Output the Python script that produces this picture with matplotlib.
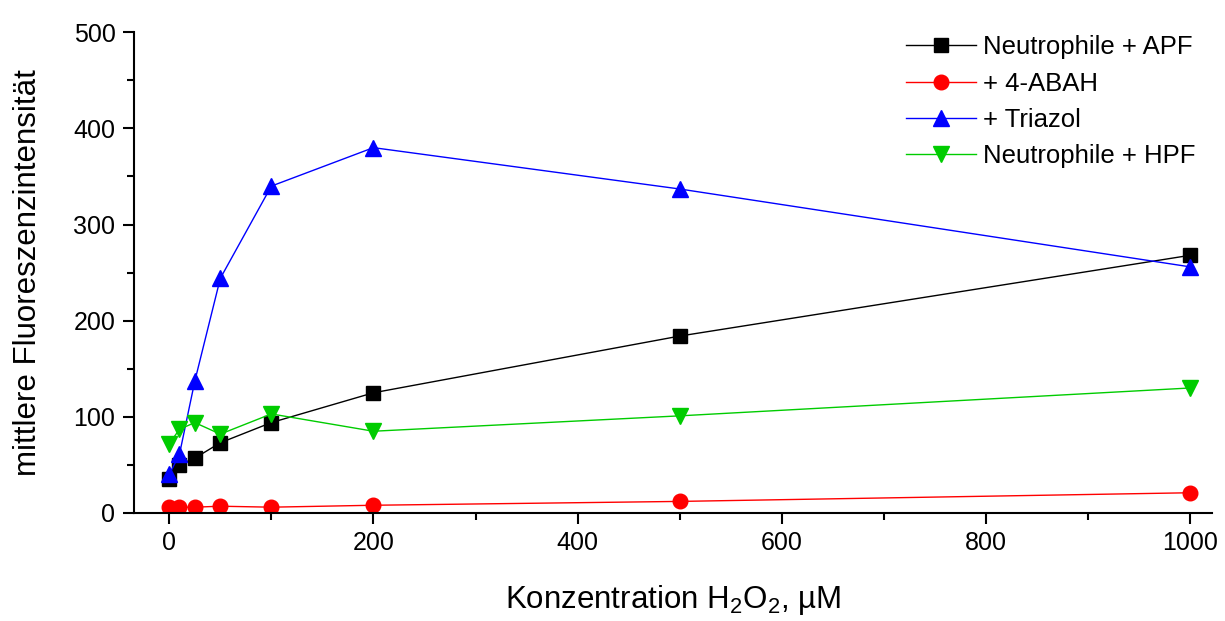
import matplotlib
matplotlib.use("Agg")
import matplotlib.pyplot as plt
from matplotlib.ticker import MultipleLocator

plt.rcParams['font.family'] = ['Liberation Sans', 'DejaVu Sans']
plt.rcParams['mathtext.fontset'] = 'custom'
plt.rcParams['mathtext.rm'] = 'Liberation Sans'
plt.rcParams['mathtext.it'] = 'Liberation Sans:italic'

conc = [0, 10, 25, 50, 100, 200, 500, 1000]
apf = [35, 50, 57, 73, 94, 125, 184, 268]
abah = [6, 6, 6, 7, 6, 8, 12, 21]
triazol = [40, 61, 137, 244, 340, 380, 337, 256]
hpf = [72, 87, 94, 82, 103, 85, 101, 130]

labels = ["Neutrophile + APF", "+ 4-ABAH", "+ Triazol", "Neutrophile + HPF"]

fig = plt.figure(figsize=(12.25, 6.21), dpi=100)
ax = fig.add_axes([0.109, 0.174, 0.880, 0.774])

ax.plot(conc, apf, color='black', lw=1.0, marker='s', ms=10, label=labels[0])
ax.plot(conc, abah, color='#ff0000', lw=1.0, marker='o', ms=10.5, label=labels[1])
ax.plot(conc, triazol, color='#0000ff', lw=1.0, marker='^', ms=12, label=labels[2])
ax.plot(conc, hpf, color='#00cc00', lw=1.0, marker='v', ms=12, label=labels[3])

ax.set_xlim(-35, 1021)
ax.set_ylim(0, 500)
ax.xaxis.set_major_locator(MultipleLocator(200))
ax.xaxis.set_minor_locator(MultipleLocator(100))
ax.yaxis.set_major_locator(MultipleLocator(100))
ax.yaxis.set_minor_locator(MultipleLocator(50))

for s in ['top', 'right']:
    ax.spines[s].set_visible(False)
for s in ['left', 'bottom']:
    ax.spines[s].set_linewidth(1.5)

ax.tick_params(which='major', direction='out', length=8, width=1.5, labelsize=18, pad=5)
ax.tick_params(which='minor', direction='out', length=5, width=1.5)

ax.set_xlabel("Konzentration H$_{\\mathrm{2}}$O$_{\\mathrm{2}}$, µM", fontsize=22.5, labelpad=20)
ax.set_ylabel("mittlere Fluoreszenzintensität", fontsize=22.5, labelpad=22)

ax.legend(loc='upper right', frameon=False, fontsize=18.5, handlelength=2.7,
          handletextpad=0.3, labelspacing=0.48, borderaxespad=0.0,
          bbox_to_anchor=(0.995, 1.015))

fig.savefig("out.png", dpi=100)
